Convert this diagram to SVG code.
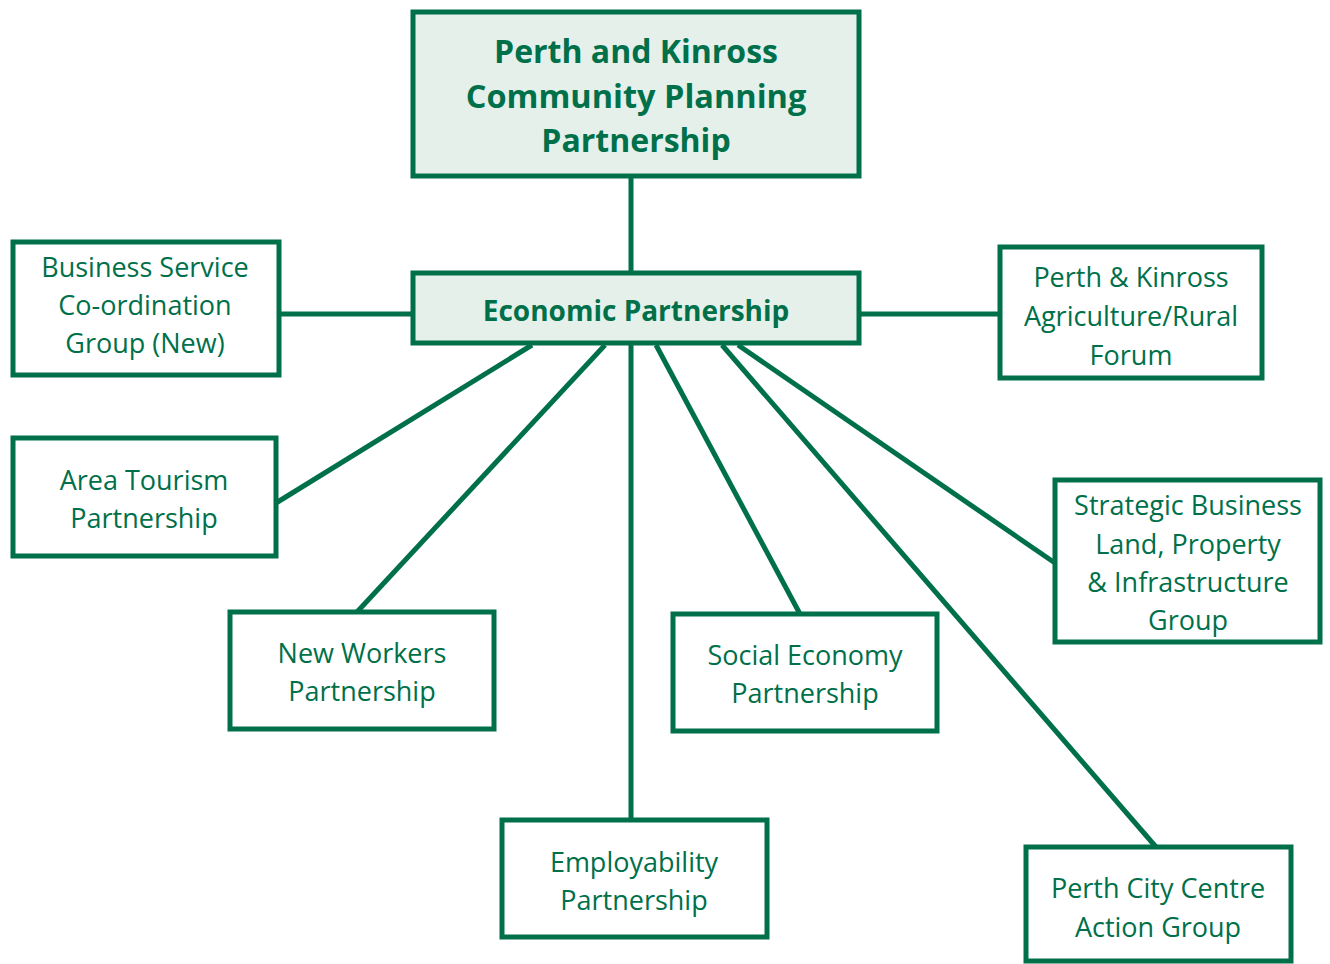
<svg xmlns="http://www.w3.org/2000/svg" width="1330" height="964" viewBox="0 0 1330 964">
<style>
.box{fill:#ffffff;stroke:#00704A;stroke-width:5}
.hl{fill:#E5F0EB;stroke:#00704A;stroke-width:5}
.t{font-family:"Open Sans","Noto Sans",sans-serif;font-size:27px;fill:#00704A;text-anchor:middle}
.b{font-family:"Open Sans","Noto Sans",sans-serif;font-weight:bold;fill:#00704A;text-anchor:middle}
.c{stroke:#00704A;stroke-width:5;fill:none}
</style>
<rect width="1330" height="964" fill="#ffffff"/>
<g id="connectors">
<line class="c" x1="631" y1="177" x2="631" y2="273"/>
<line class="c" x1="279" y1="314" x2="413" y2="314"/>
<line class="c" x1="859" y1="314" x2="1000" y2="314"/>
<line class="c" x1="532" y1="345" x2="276" y2="503"/>
<line class="c" x1="605" y1="345" x2="357" y2="612"/>
<line class="c" x1="631" y1="343" x2="631" y2="820"/>
<line class="c" x1="656" y1="345" x2="800" y2="614"/>
<line class="c" x1="722" y1="345" x2="1156" y2="847"/>
<line class="c" x1="738" y1="345" x2="1055" y2="563"/>
</g>
<g id="cpp">
<rect class="hl" x="413" y="12" width="446" height="164"/>
<text class="b" font-size="32" x="636" y="63">Perth and Kinross</text>
<text class="b" font-size="32.5" x="636" y="108">Community Planning</text>
<text class="b" font-size="32" x="636" y="152">Partnership</text>
</g>
<g id="economic">
<rect class="hl" x="413" y="273" width="446" height="70"/>
<text class="b" font-size="28" x="636" y="321">Economic Partnership</text>
</g>
<g id="business">
<rect class="box" x="13" y="242" width="266" height="133"/>
<text class="t" x="145" y="277">Business Service</text>
<text class="t" x="145" y="315">Co-ordination</text>
<text class="t" x="145" y="353">Group (New)</text>
</g>
<g id="agri">
<rect class="box" x="1000" y="247" width="262" height="131"/>
<text class="t" x="1131" y="287">Perth &amp; Kinross</text>
<text class="t" x="1131" y="326">Agriculture/Rural</text>
<text class="t" x="1131" y="365">Forum</text>
</g>
<g id="tourism">
<rect class="box" x="13" y="438" width="263" height="118"/>
<text class="t" x="144" y="490">Area Tourism</text>
<text class="t" x="144" y="528">Partnership</text>
</g>
<g id="strategic">
<rect class="box" x="1055" y="480" width="265" height="162"/>
<text class="t" x="1188" y="515">Strategic Business</text>
<text class="t" x="1188" y="554">Land, Property</text>
<text class="t" x="1188" y="592">&amp; Infrastructure</text>
<text class="t" x="1188" y="630">Group</text>
</g>
<g id="newworkers">
<rect class="box" x="230" y="612" width="264" height="117"/>
<text class="t" x="362" y="663">New Workers</text>
<text class="t" x="362" y="701">Partnership</text>
</g>
<g id="social">
<rect class="box" x="673" y="614" width="264" height="117"/>
<text class="t" x="805" y="665">Social Economy</text>
<text class="t" x="805" y="703">Partnership</text>
</g>
<g id="employability">
<rect class="box" x="502" y="820" width="265" height="117"/>
<text class="t" x="634" y="872">Employability</text>
<text class="t" x="634" y="910">Partnership</text>
</g>
<g id="citycentre">
<rect class="box" x="1026" y="847" width="265" height="114"/>
<text class="t" x="1158" y="898">Perth City Centre</text>
<text class="t" x="1158" y="937">Action Group</text>
</g>
</svg>
